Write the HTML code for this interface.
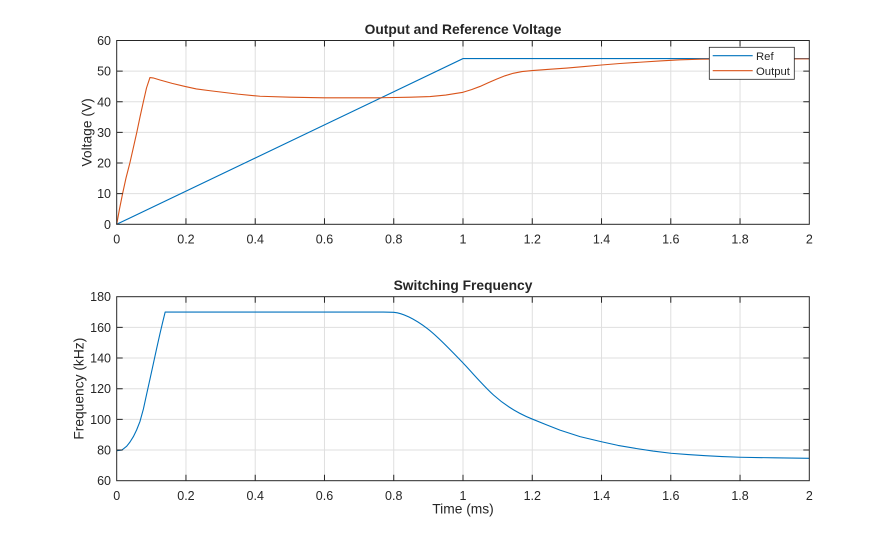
<!DOCTYPE html>
<html>
<head>
<meta charset="utf-8">
<style>
html,body{margin:0;padding:0;background:#fff;}
svg{display:block;}
text{font-family:"Liberation Sans",Arial,Helvetica,sans-serif;fill:#262626;}
</style>
</head>
<body>
<svg width="895" height="540" viewBox="0 0 895 540" xmlns="http://www.w3.org/2000/svg">
<rect width="895" height="540" fill="#fff"/>

<!-- ========== TOP AXES ========== -->
<g stroke="#dfdfdf" stroke-width="1" fill="none">
  <path d="M185.96,40.5V224.3M255.22,40.5V224.3M324.48,40.5V224.3M393.74,40.5V224.3M463,40.5V224.3M532.26,40.5V224.3M601.52,40.5V224.3M670.78,40.5V224.3M740.04,40.5V224.3"/>
  <path d="M116.7,193.67H809.3M116.7,163.03H809.3M116.7,132.4H809.3M116.7,101.77H809.3M116.7,71.13H809.3"/>
</g>

<!-- Ref -->
<path d="M116.7,224.3 L463,58.6 L809.3,58.6" fill="none" stroke="#0072BD" stroke-width="1.1"/>
<!-- Output -->
<path d="M116.7,224.3 L119.5,209 L122.59,193.67 L126,178 L129.86,163.03 L133.5,147 L136.79,132.4 L140,117 L143.37,101.77 L146.5,88 L149.94,77.57 L153,77.9 L160,80.02 L172.1,83.39 L184.92,86.45 L196.35,88.9 L210.2,90.74 L237.9,94.11 L260.07,96.25 L289.85,97.17 L324.48,97.78 L379.9,97.78 L411.06,97.17 L430.1,96.56 L445.7,95.03 L455,93.6 L463,92.27 L471.5,89.6 L480,86.45 L488.5,82.6 L496.6,79.1 L505,75.8 L513.2,73.28 L522,71.6 L532.26,70.52 L549,69.3 L566.9,68.07 L584,66.6 L601.5,65 L620,63.5 L639.6,62.25 L660,60.9 L680.1,59.8 L700,59.2 L722.7,58.9 L809.3,58.88" fill="none" stroke="#D95319" stroke-width="1.1" stroke-linejoin="round"/>

<!-- axes box -->
<rect x="116.7" y="40.5" width="692.6" height="183.8" fill="none" stroke="#262626" stroke-width="1"/>
<!-- ticks -->
<g stroke="#262626" stroke-width="1">
  <path d="M185.96,224.3v-6M255.22,224.3v-6M324.48,224.3v-6M393.74,224.3v-6M463,224.3v-6M532.26,224.3v-6M601.52,224.3v-6M670.78,224.3v-6M740.04,224.3v-6"/>
  <path d="M185.96,40.5v6M255.22,40.5v6M324.48,40.5v6M393.74,40.5v6M463,40.5v6M532.26,40.5v6M601.52,40.5v6M670.78,40.5v6M740.04,40.5v6"/>
  <path d="M116.7,193.67h6M116.7,163.03h6M116.7,132.4h6M116.7,101.77h6M116.7,71.13h6"/>
  <path d="M809.3,193.67h-6M809.3,163.03h-6M809.3,132.4h-6M809.3,101.77h-6M809.3,71.13h-6"/>
</g>
<!-- y tick labels -->
<g font-size="12.5" text-anchor="end">
  <text x="111" y="228.8">0</text>
  <text x="111" y="198.2">10</text>
  <text x="111" y="167.5">20</text>
  <text x="111" y="136.9">30</text>
  <text x="111" y="106.3">40</text>
  <text x="111" y="75.6">50</text>
  <text x="111" y="45">60</text>
</g>
<!-- x tick labels -->
<g font-size="12.5" text-anchor="middle">
  <text x="116.7" y="243.4">0</text>
  <text x="185.96" y="243.4">0.2</text>
  <text x="255.22" y="243.4">0.4</text>
  <text x="324.48" y="243.4">0.6</text>
  <text x="393.74" y="243.4">0.8</text>
  <text x="463" y="243.4">1</text>
  <text x="532.26" y="243.4">1.2</text>
  <text x="601.52" y="243.4">1.4</text>
  <text x="670.78" y="243.4">1.6</text>
  <text x="740.04" y="243.4">1.8</text>
  <text x="809.3" y="243.4">2</text>
</g>
<text x="463" y="34" font-size="13.8" font-weight="bold" text-anchor="middle">Output and Reference Voltage</text>
<text transform="translate(91.5,132.4) rotate(-90)" font-size="13.8" text-anchor="middle">Voltage (V)</text>

<!-- legend -->
<rect x="709.3" y="47.3" width="85" height="32" fill="#fff" stroke="#262626" stroke-width="0.8"/>
<path d="M712.7,55.7H752.7" stroke="#0072BD" stroke-width="1.2"/>
<path d="M712.7,70.7H752.7" stroke="#D95319" stroke-width="1.2"/>
<text x="756" y="59.8" font-size="11.3">Ref</text>
<text x="756" y="74.8" font-size="11.3">Output</text>

<!-- ========== BOTTOM AXES ========== -->
<g stroke="#dfdfdf" stroke-width="1" fill="none">
  <path d="M185.96,296.7V480.7M255.22,296.7V480.7M324.48,296.7V480.7M393.74,296.7V480.7M463,296.7V480.7M532.26,296.7V480.7M601.52,296.7V480.7M670.78,296.7V480.7M740.04,296.7V480.7"/>
  <path d="M116.7,450.03H809.3M116.7,419.37H809.3M116.7,388.7H809.3M116.7,358.03H809.3M116.7,327.37H809.3"/>
</g>

<path d="M116.7,450.65 L121.9,450.03 L126.74,446.2 L130,442 L133.32,436.7 L136.6,430 L139.9,421.67 L143.4,409 L146.83,393.3 L150.1,378.5 L153.41,363.4 L156.7,348.3 L160,333.5 L162.6,322.5 L165.18,312.03 L383.35,312.03 C387,312.03 390,312.1 393.74,312.34 C404.83,313.45 415.91,319.98 427,328.3 C438.07,336.6 449.13,348.74 460.2,360.03 C471.3,371.35 482.4,385.01 493.5,395 C506.42,406.63 519.34,413.89 532.26,419.06 L546,424.6 L559.96,430.1 L580,436.6 L601.5,441.75 L618,445.4 L636.15,448.5 L653,451.1 L670.8,453.25 L688,454.6 L705.4,455.7 L722,456.6 L740,457.24 L774.7,457.85 L809.3,458.3" fill="none" stroke="#0072BD" stroke-width="1.1" stroke-linejoin="round"/>

<rect x="116.7" y="296.7" width="692.6" height="184" fill="none" stroke="#262626" stroke-width="1"/>
<g stroke="#262626" stroke-width="1">
  <path d="M185.96,480.7v-6M255.22,480.7v-6M324.48,480.7v-6M393.74,480.7v-6M463,480.7v-6M532.26,480.7v-6M601.52,480.7v-6M670.78,480.7v-6M740.04,480.7v-6"/>
  <path d="M185.96,296.7v6M255.22,296.7v6M324.48,296.7v6M393.74,296.7v6M463,296.7v6M532.26,296.7v6M601.52,296.7v6M670.78,296.7v6M740.04,296.7v6"/>
  <path d="M116.7,450.03h6M116.7,419.37h6M116.7,388.7h6M116.7,358.03h6M116.7,327.37h6"/>
  <path d="M809.3,450.03h-6M809.3,419.37h-6M809.3,388.7h-6M809.3,358.03h-6M809.3,327.37h-6"/>
</g>
<g font-size="12.5" text-anchor="end">
  <text x="111" y="485.2">60</text>
  <text x="111" y="454.5">80</text>
  <text x="111" y="423.9">100</text>
  <text x="111" y="393.2">120</text>
  <text x="111" y="362.5">140</text>
  <text x="111" y="331.9">160</text>
  <text x="111" y="301.2">180</text>
</g>
<g font-size="12.5" text-anchor="middle">
  <text x="116.7" y="499.8">0</text>
  <text x="185.96" y="499.8">0.2</text>
  <text x="255.22" y="499.8">0.4</text>
  <text x="324.48" y="499.8">0.6</text>
  <text x="393.74" y="499.8">0.8</text>
  <text x="463" y="499.8">1</text>
  <text x="532.26" y="499.8">1.2</text>
  <text x="601.52" y="499.8">1.4</text>
  <text x="670.78" y="499.8">1.6</text>
  <text x="740.04" y="499.8">1.8</text>
  <text x="809.3" y="499.8">2</text>
</g>
<text x="463" y="290" font-size="13.8" font-weight="bold" text-anchor="middle">Switching Frequency</text>
<text x="463" y="513.5" font-size="13.8" text-anchor="middle">Time (ms)</text>
<text transform="translate(83.5,388.7) rotate(-90)" font-size="13.8" text-anchor="middle">Frequency (kHz)</text>
</svg>
</body>
</html>
